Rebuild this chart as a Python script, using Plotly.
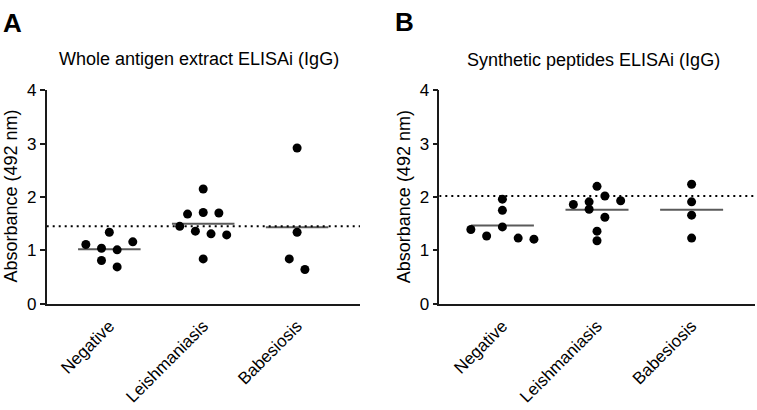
import numpy as np
import plotly.graph_objects as go

# ---------------- data ----------------
categories = ["Negative", "Leishmaniasis", "Babesiosis"]

# Panel A: Whole antigen extract ELISAi (IgG)
neg_A = [1.34, 1.11, 1.04, 1.01, 1.16, 0.81, 0.69]
leish_A = [2.15, 1.68, 1.71, 1.70, 1.45, 1.36, 1.31, 1.29, 0.84]
babes_A = [2.92, 1.34, 0.84, 0.64]
cutoff_A = 1.45

# Panel B: Synthetic peptides ELISAi (IgG)
neg_B = [1.96, 1.75, 1.39, 1.27, 1.44, 1.23, 1.21]
leish_B = [2.20, 1.86, 1.91, 2.02, 1.93, 1.77, 1.62, 1.36, 1.18]
babes_B = [2.24, 1.91, 1.66, 1.23]
cutoff_B = 2.02

y_ticks = [0, 1, 2, 3, 4]
titles = ["Whole antigen extract ELISAi (IgG)", "Synthetic peptides ELISAi (IgG)"]
panel_letters = ["A", "B"]
y_title = "Absorbance (492 nm)"

# ---------------- layout helpers ----------------
W, H = 757, 410
FONT = "Liberation Sans, Arial, sans-serif"
X_RANGE = [-0.667, 2.67]
STEP = 1 / 6        # horizontal spacing of points in a swarm row (category units)
BIN = 0.3           # vertical bin height used to group points into rows
HALF = 0.333        # half-width of mean bar


def swarm_offsets(vals):
    bins = {}
    for i, v in enumerate(vals):
        b = int(np.floor(v / BIN + 1e-9))
        bins.setdefault(b, []).append(i)
    offs = [0.0] * len(vals)
    for idx in bins.values():
        n = len(idx)
        for k, i in enumerate(idx):
            offs[i] = (k - (n - 1) / 2) * STEP
    return offs


fig = go.Figure()

panels = [
    ([neg_A, leish_A, babes_A], cutoff_A, "x", "y"),
    ([neg_B, leish_B, babes_B], cutoff_B, "x2", "y2"),
]

for groups, cutoff, xa, ya in panels:
    # mean bars
    mx, my = [], []
    for ci, vals in enumerate(groups):
        m = float(np.mean(vals))
        mx += [ci - HALF, ci + HALF, None]
        my += [m, m, None]
    fig.add_trace(go.Scatter(x=mx, y=my, mode="lines", xaxis=xa, yaxis=ya,
                             line=dict(color="#5a5a5a", width=2),
                             hoverinfo="skip", showlegend=False))
    # cutoff dotted line
    fig.add_trace(go.Scatter(x=X_RANGE, y=[cutoff, cutoff], mode="lines",
                             xaxis=xa, yaxis=ya,
                             line=dict(color="black", width=2, dash="2px,4px"),
                             hoverinfo="skip", showlegend=False))
    # points
    px, py = [], []
    for ci, vals in enumerate(groups):
        offs = swarm_offsets(vals)
        px += [ci + o for o in offs]
        py += list(vals)
    fig.add_trace(go.Scatter(x=px, y=py, mode="markers", xaxis=xa, yaxis=ya,
                             marker=dict(color="black", size=9, line=dict(width=0)),
                             showlegend=False))

ydom = [1 - 309 / H, 1 - 85.3 / H]
xdomA = [46.7 / W, 360 / W]
xdomB = [439.3 / W, 755 / W]

axis_common = dict(showgrid=False, zeroline=False, showline=True,
                   linecolor="#1a1a1a", linewidth=1.5,
                   tickfont=dict(family=FONT, size=17, color="black"))

xax = dict(axis_common, range=X_RANGE, tickmode="array",
           tickvals=[0, 1, 2], ticktext=categories, tickangle=-45,
           ticks="outside", ticklen=4, tickcolor="rgba(0,0,0,0)")
yax = dict(axis_common, range=[0, 4], tickmode="array", tickvals=y_ticks,
           ticks="outside", ticklen=5, tickwidth=1.5, tickcolor="#1a1a1a")

fig.update_layout(
    width=W, height=H,
    margin=dict(l=0, r=0, t=0, b=0),
    paper_bgcolor="white", plot_bgcolor="white",
    xaxis=dict(xax, domain=xdomA, anchor="y"),
    yaxis=dict(yax, domain=ydom, anchor="x"),
    xaxis2=dict(xax, domain=xdomB, anchor="y2"),
    yaxis2=dict(yax, domain=ydom, anchor="x2"),
)

ann = []
# panel letters
for letter, (lx, ly) in zip(panel_letters, [(12.5, 15), (404, 14)]):
    ann.append(dict(text=f"<b>{letter}</b>", x=lx / W, y=1 - ly / H, xref="paper", yref="paper",
                    xanchor="center", yanchor="middle", showarrow=False,
                    font=dict(family=FONT, size=26, color="black")))
# panel titles
for t, (tx, ty) in zip(titles, [(198.5, 52), (593.5, 53)]):
    ann.append(dict(text=t, x=tx / W, y=1 - ty / H, xref="paper", yref="paper",
                    xanchor="center", yanchor="middle", showarrow=False,
                    font=dict(family=FONT, size=18, color="black")))
# y-axis titles
for yx in [11, 403.6]:
    ann.append(dict(text=y_title, x=yx / W, y=1 - 196.7 / H, xref="paper", yref="paper",
                    xanchor="center", yanchor="middle", showarrow=False, textangle=-90,
                    font=dict(family=FONT, size=18, color="black")))
fig.update_layout(annotations=ann)

fig.write_html("out.html")
